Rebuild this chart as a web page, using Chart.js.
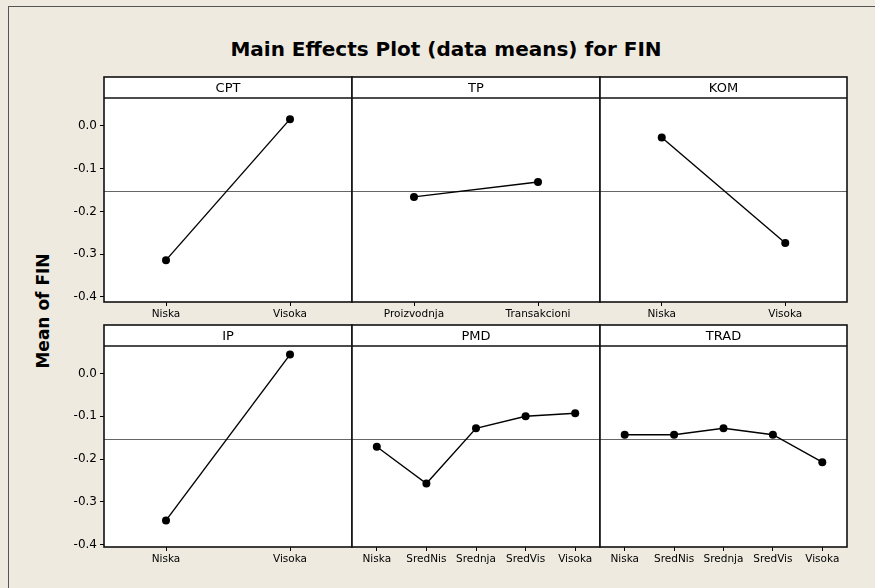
<!DOCTYPE html>
<html lang="en">
<head>
    <meta charset="UTF-8">
    <title>Main Effects Plot (data means) for FIN</title>
    <script src="https://cdn.jsdelivr.net/npm/chart.js@4.4.0/dist/chart.umd.min.js"></script>
    <style>
        body {
            margin: 0;
            width: 875px;
            height: 588px;
            background: #eeeae0;
            position: relative;
            overflow: hidden;
            font-family: "DejaVu Sans", sans-serif;
        }
        .frame {
            position: absolute;
            left: 8px;
            top: 6px;
            width: 875px;
            height: 588px;
            border-left: 1px solid #555;
            border-top: 1px solid #555;
        }
        .main-title {
            position: absolute;
            left: 0;
            top: 39px;
            width: 892px;
            text-align: center;
            font-size: 20px;
            line-height: 20px;
            font-weight: bold;
            color: #000;
        }
        .y-title {
            position: absolute;
            left: 43px;
            top: 311px;
            transform: translate(-50%, -50%) rotate(-90deg);
            white-space: nowrap;
            font-size: 17px;
            font-weight: bold;
            color: #000;
        }
        canvas {
            position: absolute;
        }
    </style>
</head>
<body>
    <div class="frame"></div>
    <div class="main-title">Main Effects Plot (data means) for FIN</div>
    <div class="y-title">Mean of FIN</div>

    <script>
        // factor names and their levels
        const factors = ['CPT', 'TP', 'KOM', 'IP', 'PMD', 'TRAD'];
        const twoLevels = ['Niska', 'Visoka'];
        const tpLevels = ['Proizvodnja', 'Transakcioni'];
        const fiveLevels = ['Niska', 'SredNis', 'Srednja', 'SredVis', 'Visoka'];

        // means of FIN for each level
        const cptMeans = [-0.314, 0.016];
        const tpMeans = [-0.166, -0.131];
        const komMeans = [-0.027, -0.274];
        const ipMeans = [-0.343, 0.044];
        const pmdMeans = [-0.171, -0.257, -0.128, -0.100, -0.093];
        const tradMeans = [-0.143, -0.143, -0.128, -0.143, -0.207];

        const grandMean = -0.152;
        const yTicks = [-0.4, -0.3, -0.2, -0.1, 0.0];

        const levelSets = [twoLevels, tpLevels, twoLevels, twoLevels, fiveLevels, fiveLevels];
        const meanSets = [cptMeans, tpMeans, komMeans, ipMeans, pmdMeans, tradMeans];

        // panel grid
        const colLeft = [104, 352, 600];
        const colWidth = [248, 248, 247];
        const rowTop = [77, 325];
        const plotHeight = [204, 201];
        const rowMin = [-0.412, -0.405];
        const rowMax = [0.0655, 0.064];
        const headerH = 21;
        const yAxisW = 50;
        const xAxisH = 24;

        // white panel + header strip, mean line and frame
        const panelPlugin = {
            id: 'panel',
            beforeDraw(chart, args, opts) {
                const a = chart.chartArea;
                const c = chart.ctx;
                c.save();
                c.fillStyle = '#fff';
                c.fillRect(a.left, a.top - headerH, a.right - a.left, a.bottom - a.top + headerH);
                c.restore();
            },
            beforeDatasetsDraw(chart, args, opts) {
                const a = chart.chartArea;
                const c = chart.ctx;
                const y = Math.round(chart.scales.y.getPixelForValue(grandMean)) + 0.5;
                c.save();
                c.strokeStyle = '#666';
                c.lineWidth = 1;
                c.beginPath();
                c.moveTo(a.left, y);
                c.lineTo(a.right, y);
                c.stroke();
                c.restore();
            },
            afterDraw(chart, args, opts) {
                const a = chart.chartArea;
                const c = chart.ctx;
                c.save();
                c.strokeStyle = '#111';
                c.lineWidth = 1.6;
                c.strokeRect(a.left, a.top - headerH, a.right - a.left, a.bottom - a.top + headerH);
                c.beginPath();
                c.moveTo(a.left, a.top);
                c.lineTo(a.right, a.top);
                c.stroke();
                c.fillStyle = '#000';
                c.font = '13px "DejaVu Sans"';
                c.textAlign = 'center';
                c.textBaseline = 'middle';
                c.fillText(opts.name, (a.left + a.right) / 2, a.top - headerH / 2 + 1);
                c.restore();
            }
        };

        factors.forEach(function(name, i) {
            const row = Math.floor(i / 3);
            const col = i % 3;
            const leftSpace = col === 0 ? yAxisW : 2;
            const canvas = document.createElement('canvas');
            const w = leftSpace + colWidth[col] + 2;
            const h = headerH + 1 + plotHeight[row] + xAxisH;
            canvas.width = w;
            canvas.height = h;
            canvas.style.left = (colLeft[col] - leftSpace) + 'px';
            canvas.style.top = (rowTop[row] - 1) + 'px';
            canvas.style.width = w + 'px';
            canvas.style.height = h + 'px';
            document.body.appendChild(canvas);

            new Chart(canvas.getContext('2d'), {
                type: 'line',
                data: {
                    labels: levelSets[i],
                    datasets: [{
                        data: meanSets[i],
                        borderColor: '#000',
                        backgroundColor: '#000',
                        borderWidth: 1.4,
                        pointRadius: 4,
                        pointHoverRadius: 4,
                        pointBackgroundColor: '#000',
                        pointBorderWidth: 0,
                        tension: 0,
                        fill: false
                    }]
                },
                options: {
                    responsive: false,
                    animation: false,
                    devicePixelRatio: 1,
                    layout: {
                        autoPadding: false,
                        padding: { top: headerH + 1, left: col === 0 ? 0 : 2, right: 2, bottom: 0 }
                    },
                    plugins: {
                        legend: { display: false },
                        tooltip: { enabled: false },
                        panel: { name: name }
                    },
                    scales: {
                        x: {
                            type: 'category',
                            offset: true,
                            afterFit: function(scale) { scale.height = xAxisH; },
                            border: { display: false },
                            grid: {
                                offset: false,
                                drawOnChartArea: false,
                                drawTicks: true,
                                tickLength: 4,
                                color: '#000',
                                lineWidth: 1
                            },
                            ticks: {
                                color: '#000',
                                font: { family: 'DejaVu Sans', size: 10.5 },
                                padding: 2,
                                maxRotation: 0,
                                autoSkip: false
                            }
                        },
                        y: {
                            display: col === 0,
                            min: rowMin[row],
                            max: rowMax[row],
                            afterFit: function(scale) { scale.width = col === 0 ? yAxisW : 0; },
                            afterBuildTicks: function(scale) {
                                scale.ticks = yTicks.map(function(v) { return { value: v }; });
                            },
                            border: { display: false },
                            grid: {
                                drawOnChartArea: false,
                                drawTicks: true,
                                tickLength: 4,
                                color: '#000',
                                lineWidth: 1
                            },
                            ticks: {
                                color: '#000',
                                font: { family: 'DejaVu Sans', size: 12 },
                                padding: 3,
                                callback: function(v) { return Number(v).toFixed(1); }
                            }
                        }
                    }
                },
                plugins: [panelPlugin]
            });
        });
    </script>
</body>
</html>
